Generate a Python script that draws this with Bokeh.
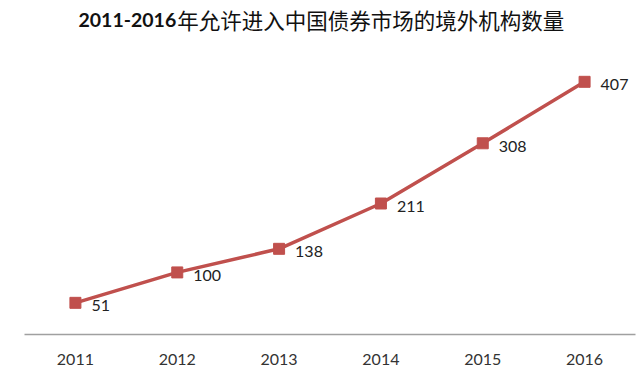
from bokeh.plotting import figure
from bokeh.models import ColumnDataSource, Label, Range1d, FixedTicker
from bokeh.core.properties import value
from bokeh.embed import file_html
from bokeh.resources import INLINE

years = [2011, 2012, 2013, 2014, 2015, 2016]
counts = [51, 100, 138, 211, 308, 407]
tick_labels = ["2011", "2012", "2013", "2014", "2015", "2016"]
title_num = "2011-2016"
title_cjk = "年允许进入中国债券市场的境外机构数量"

src = ColumnDataSource(dict(x=years, y=counts, t=[str(c) for c in counts]))

p = figure(width=640, height=377, output_backend="svg", toolbar_location=None,
           x_range=Range1d(2010.5, 2016.5), y_range=Range1d(0, 538),
           min_border_left=24, min_border_right=5, min_border_top=0, min_border_bottom=43)
p.outline_line_color = None
p.background_fill_color = "white"
p.border_fill_color = "white"
p.grid.visible = False
p.yaxis.visible = False

xa = p.xaxis[0]
xa.ticker = FixedTicker(ticks=years)
xa.major_label_overrides = {y: s for y, s in zip(years, tick_labels)}
xa.major_tick_line_color = None
xa.minor_tick_line_color = None
xa.axis_line_color = "#a0a0a0"
xa.axis_line_width = 1.5
xa.major_label_text_font = "Lato"
xa.major_label_text_font_size = "16px"
xa.major_label_text_color = "#333333"
xa.major_label_standoff = 13

p.line("x", "y", source=src, line_color="#C0504D", line_width=3.5)
p.scatter("x", "y", source=src, marker="square", size=11, fill_color="#C0504D", line_color="#C0504D")
p.text("x", "y", text="t", source=src, x_offset=16, y_offset=3, text_align="left",
       text_baseline="middle", text_font=value("Lato"), text_font_size="16px", text_color="#222222")

p.add_layout(Label(x=2011.03, y=507, text=title_num,
                   text_font="Lato", text_font_style="bold", text_font_size="19.5px",
                   text_baseline="middle", text_align="left", text_color="#111111"))
p.add_layout(Label(x=2012.0, y=507, text=title_cjk,
                   text_font="Noto Sans CJK SC", text_font_size="21.5px",
                   text_baseline="middle", text_align="left", text_color="#111111"))

open("out.html", "w").write(file_html(p, INLINE))
